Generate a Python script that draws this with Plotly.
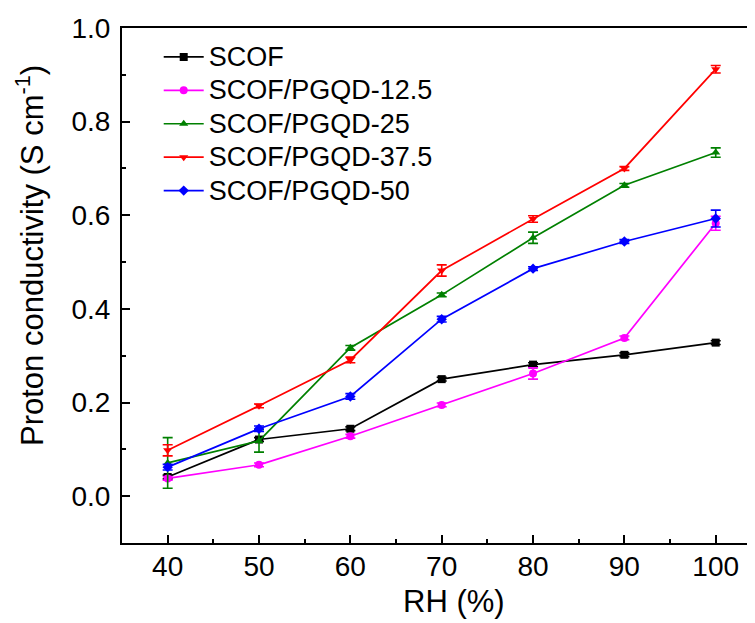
import plotly.graph_objects as go

rh = [40, 50, 60, 70, 80, 90, 100]
series_names = ["SCOF", "SCOF/PGQD-12.5", "SCOF/PGQD-25", "SCOF/PGQD-37.5", "SCOF/PGQD-50"]
scof = [0.041, 0.121, 0.144, 0.250, 0.281, 0.302, 0.328]
pgqd125 = [0.038, 0.067, 0.128, 0.195, 0.262, 0.338, 0.583]
pgqd25 = [0.071, 0.118, 0.317, 0.430, 0.552, 0.664, 0.734]
pgqd375 = [0.098, 0.193, 0.291, 0.482, 0.592, 0.700, 0.912]
pgqd50 = [0.062, 0.144, 0.213, 0.378, 0.486, 0.544, 0.593]
err_scof = [0.004, 0.004, 0.004, 0.004, 0.004, 0.004, 0.004]
err_125 = [0.004, 0.004, 0.004, 0.004, 0.012, 0.004, 0.015]
err_25 = [0.054, 0.024, 0.005, 0.004, 0.012, 0.004, 0.010]
err_375 = [0.012, 0.004, 0.006, 0.012, 0.007, 0.004, 0.008]
err_50 = [0.006, 0.006, 0.006, 0.006, 0.004, 0.004, 0.018]
y_ticks = [0.0, 0.2, 0.4, 0.6, 0.8, 1.0]
x_title = "RH (%)"
y_title = "Proton conductivity (S cm<sup>-1</sup>)"

values = [scof, pgqd125, pgqd25, pgqd375, pgqd50]
errors = [err_scof, err_125, err_25, err_375, err_50]
colors = ["#000000", "#FF00FF", "#008000", "#FF0000", "#0000FF"]
symbols = ["square", "circle", "triangle-up", "triangle-down", "diamond"]

fig = go.Figure()
for name, v, e, c, s in zip(series_names, values, errors, colors, symbols):
    fig.add_trace(go.Scatter(
        x=rh, y=v, mode="lines+markers",
        name='<span style="font-size:27px">' + name + '</span>',
        line=dict(color=c, width=1.7),
        marker=dict(symbol=s, size=8, color=c),
        error_y=dict(type="data", array=e, visible=True, color=c, thickness=1.6, width=5),
    ))

font = "Liberation Sans, Arial, sans-serif"
W, H = 747, 615
L, R, T, B = 114, 0, 20, 80
PW, PH = W - L - R, H - T - B
fig.update_layout(
    width=W, height=H,
    margin=dict(l=L, r=R, t=T, b=B),
    paper_bgcolor="white", plot_bgcolor="white",
    font=dict(family=font, color="black"),
    showlegend=True,
    legend=dict(x=0.058, y=0.986, xanchor="left", yanchor="top",
                font=dict(size=23.4, family=font), bgcolor="rgba(0,0,0,0)",
                tracegroupgap=0, itemwidth=40),
    xaxis=dict(
        range=[35, 104.3], tickvals=rh,
        showline=True, linecolor="black", linewidth=2, mirror=True,
        ticks="inside", ticklen=8, tickwidth=1.5, tickcolor="black",
        minor=dict(ticks="inside", ticklen=4, tickwidth=1.5, dtick=5, tickcolor="black"),
        showgrid=False, zeroline=False,
        tickfont=dict(size=28, family=font),
        ticklabelstandoff=-3,
    ),
    yaxis=dict(
        range=[-0.1, 1.0], tickvals=y_ticks, tickformat=".1f",
        showline=True, linecolor="black", linewidth=2, mirror=False,
        ticks="inside", ticklen=8, tickwidth=1.5, tickcolor="black",
        minor=dict(ticks="inside", ticklen=4, tickwidth=1.5, dtick=0.1, tickcolor="black"),
        showgrid=False, zeroline=False,
        tickfont=dict(size=28, family=font),
        ticklabelstandoff=4,
    ),
    annotations=[
        dict(text=x_title, xref="paper", yref="paper",
             x=(446 - L) / PW, y=-(593 - (H - B)) / PH,
             xanchor="center", yanchor="middle", showarrow=False,
             font=dict(size=31, family=font)),
        dict(text=y_title, xref="paper", yref="paper", textangle=-90,
             x=(22 - L) / PW, y=((H - B) - 248) / PH,
             xanchor="center", yanchor="middle", showarrow=False,
             font=dict(size=31, family=font)),
    ],
)
fig.write_html("out.html")
